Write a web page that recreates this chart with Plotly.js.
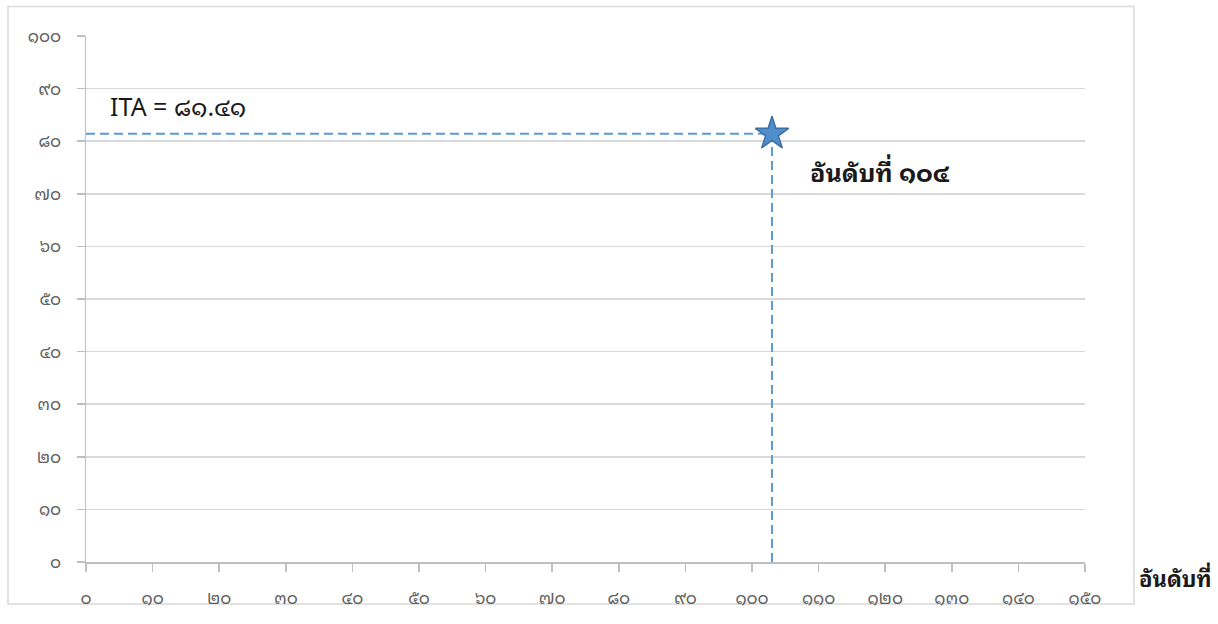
<!DOCTYPE html>
<html>
<head>
<meta charset="utf-8">
<script src="https://cdn.plot.ly/plotly-3.0.1.min.js"></script>
<style>html,body{margin:0;padding:0;background:#fff;}#chart{width:1218px;height:624px;}</style>
</head>
<body>
<div id="chart"></div>
<script>
// Data
const pointX = [103];
const pointY = [81.41];
const itaLabel = 'ITA = ๘๑.๔๑';
const rankLabel = 'อันดับที่ ๑๐๔';
const xAxisTitle = 'อันดับที่';
const xTickVals = [0,10,20,30,40,50,60,70,80,90,100,110,120,130,140,150];
const xTickText = ['๐','๑๐','๒๐','๓๐','๔๐','๕๐','๖๐','๗๐','๘๐','๙๐','๑๐๐','๑๑๐','๑๒๐','๑๓๐','๑๔๐','๑๕๐'];
const yTickVals = [0,10,20,30,40,50,60,70,80,90,100];
const yTickText = ['๐','๑๐','๒๐','๓๐','๔๐','๕๐','๖๐','๗๐','๘๐','๙๐','๑๐๐'];

const FONT = '"Noto Sans Thai Looped", "Noto Sans Thai", "Leelawadee UI", Tahoma, "Noto Sans", sans-serif';
const blue = '#5b9bd5';

const traces = [
  { // horizontal dashed guide
    x: [0, pointX[0]], y: [pointY[0], pointY[0]],
    mode: 'lines', line: {color: blue, width: 2, dash: '9px,5px'},
    hoverinfo: 'skip', showlegend: false, cliponaxis: false
  },
  { // vertical dashed guide
    x: [pointX[0], pointX[0]], y: [0, pointY[0]],
    mode: 'lines', line: {color: blue, width: 2, dash: '9px,5px'},
    hoverinfo: 'skip', showlegend: false, cliponaxis: false
  },
  {
    x: pointX, y: pointY, mode: 'markers',
    marker: {symbol: 'star', size: 25, color: '#4f8fce', line: {color: '#3c6e9f', width: 1.5}},
    showlegend: false, cliponaxis: false
  }
];

const layout = {
  width: 1218, height: 624,
  margin: {l: 86, r: 133, t: 35.5, b: 62},
  paper_bgcolor: '#ffffff', plot_bgcolor: '#ffffff',
  showlegend: false,
  font: {family: FONT, color: '#595959'},
  xaxis: {
    range: [0, 150], fixedrange: true,
    tickvals: xTickVals, ticktext: xTickText,
    ticks: 'outside', ticklen: 8, tickcolor: '#bfbfbf', tickwidth: 1.5,
    showline: true, linecolor: '#bfbfbf', linewidth: 1.5,
    showgrid: false, zeroline: false,
    tickfont: {family: FONT, size: 17, color: '#606060'},
    ticklabelstandoff: 12
  },
  yaxis: {
    range: [0, 100], fixedrange: true,
    tickvals: yTickVals, ticktext: yTickText,
    ticks: 'outside', ticklen: 8, tickcolor: '#bfbfbf', tickwidth: 1.5,
    showline: true, linecolor: '#bfbfbf', linewidth: 1.5,
    showgrid: true, gridcolor: '#d9d9d9', gridwidth: 1.5,
    zeroline: false,
    tickfont: {family: FONT, size: 17, color: '#606060'},
    ticklabelstandoff: 12
  },
  shapes: [
    {type: 'rect', xref: 'paper', yref: 'paper', x0: -0.0781, x1: 1.049, y0: -0.0798, y1: 1.056,
     line: {color: '#d9d9d9', width: 1.5}, fillcolor: 'rgba(0,0,0,0)', layer: 'below'}
  ],
  annotations: [
    {text: itaLabel, xref: 'paper', yref: 'paper', x: 0.022, y: 0.868, xanchor: 'left', yanchor: 'middle',
     showarrow: false, font: {family: FONT, size: 25, color: '#1a1a1a'}},
    {text: '<b>' + rankLabel + '</b>', xref: 'paper', yref: 'paper', x: 0.723, y: 0.744, xanchor: 'left', yanchor: 'middle',
     showarrow: false, font: {family: FONT, size: 25, color: '#1a1a1a'}},
    {text: '<b>' + xAxisTitle + '</b>', xref: 'paper', yref: 'paper', x: 1.052, y: -0.028, xanchor: 'left', yanchor: 'middle',
     showarrow: false, font: {family: FONT, size: 22, color: '#1a1a1a'}}
  ]
};

Plotly.newPlot('chart', traces, layout, {displayModeBar: false, staticPlot: true});
</script>
</body>
</html>
